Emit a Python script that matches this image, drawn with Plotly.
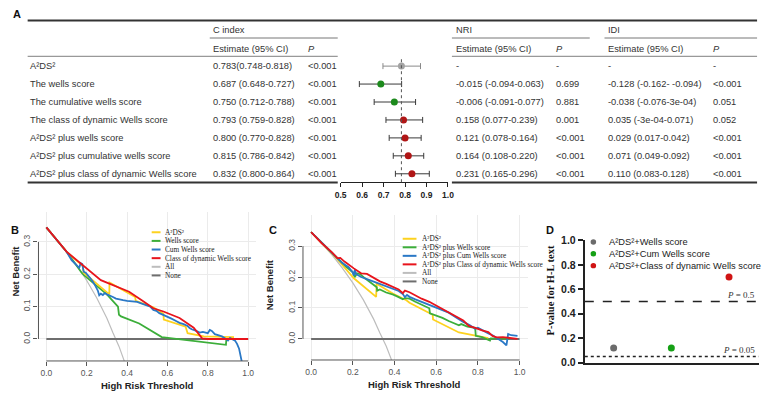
import plotly.graph_objects as go

W, H = 767, 398
def px(x): return x / W
def py(y): return 1 - y / H

SANS = "Liberation Sans, Arial, sans-serif"
SERIF = "Liberation Serif, Times New Roman, serif"

# ---------------- Panel A data ----------------
models = ["A²DS²", "The wells score", "The cumulative wells score",
          "The class of dynamic Wells score", "A²DS² plus wells score",
          "A²DS² plus cumulative wells score", "A²DS² plus class of dynamic Wells score"]
cindex_text = ["0.783(0.748-0.818)", "0.687 (0.648-0.727)", "0.750 (0.712-0.788)",
               "0.793 (0.759-0.828)", "0.800 (0.770-0.828)", "0.815 (0.786-0.842)",
               "0.832 (0.800-0.864)"]
cindex_p = ["<0.001"] * 7
nri_text = ["-", "-0.015 (-0.094-0.063)", "-0.006 (-0.091-0.077)", "0.158 (0.077-0.239)",
            "0.121 (0.078-0.164)", "0.164 (0.108-0.220)", "0.231 (0.165-0.296)"]
nri_p = ["-", "0.699", "0.881", "0.001", "<0.001", "<0.001", "<0.001"]
idi_text = ["-", "-0.128 (-0.162- -0.094)", "-0.038 (-0.076-3e-04)", "0.035 (-3e-04-0.071)",
            "0.029 (0.017-0.042)", "0.071 (0.049-0.092)", "0.110 (0.083-0.128)"]
idi_p = ["-", "<0.001", "0.051", "0.052", "<0.001", "<0.001", "<0.001"]

forest_est = [0.783, 0.687, 0.750, 0.793, 0.800, 0.815, 0.832]
forest_lo = [0.697, 0.587, 0.656, 0.711, 0.726, 0.745, 0.755]
forest_hi = [0.872, 0.784, 0.849, 0.882, 0.875, 0.887, 0.913]
forest_ref = 0.783
forest_ticks = [0.5, 0.6, 0.7, 0.8, 0.9, 1.0]
forest_colors = ["#a3a3a3", "#1d8a1d", "#1d8a1d", "#b01616", "#b01616", "#b01616", "#b01616"]
ci_colors = ["#8a8a8a", "#3a3a3a", "#3a3a3a", "#3a3a3a", "#3a3a3a", "#3a3a3a", "#3a3a3a"]

# ---------------- Panel B data ----------------
b_yellow_t = [0, 0.1, 0.18, 0.185, 0.2, 0.312, 0.313, 0.44, 0.443, 0.53, 0.58, 0.582, 0.69, 0.70, 0.78, 0.86, 0.93]
b_yellow_nb = [0.345, 0.27, 0.226, 0.205, 0.197, 0.138, 0.175, 0.13, 0.118, 0.098, 0.078, 0.06, 0.038, 0.018, 0.008, 0.007, 0.006]
b_green_t = [0, 0.1, 0.175, 0.185, 0.3, 0.355, 0.36, 0.37, 0.46, 0.572, 0.89, 0.892, 0.9]
b_green_nb = [0.345, 0.27, 0.205, 0.198, 0.138, 0.1, 0.075, 0.07, 0.048, 0.006, -0.018, 0.0, 0.0]
b_blue_t = [0, 0.1, 0.125, 0.15, 0.163, 0.17, 0.178, 0.185, 0.195, 0.215, 0.23, 0.245, 0.255, 0.262,
            0.27, 0.28, 0.29, 0.3, 0.315, 0.33, 0.345, 0.36, 0.38, 0.4, 0.42, 0.435, 0.45, 0.47, 0.49,
            0.5, 0.515, 0.53, 0.545, 0.56, 0.58, 0.6, 0.62, 0.645, 0.66, 0.68, 0.7, 0.71, 0.72, 0.74,
            0.76, 0.776, 0.79, 0.8, 0.81, 0.82, 0.835, 0.85, 0.87, 0.885, 0.9, 0.91, 0.92, 0.935,
            0.945, 0.955, 0.97]
b_blue_nb = [0.345, 0.27, 0.244, 0.228, 0.22, 0.235, 0.232, 0.208, 0.205, 0.19, 0.178, 0.162, 0.15, 0.135,
             0.14, 0.136, 0.142, 0.138, 0.135, 0.13, 0.125, 0.122, 0.12, 0.118, 0.117, 0.114, 0.115, 0.11, 0.106,
             0.103, 0.1, 0.09, 0.087, 0.08, 0.075, 0.07, 0.063, 0.055, 0.05, 0.046, 0.04, 0.034, 0.03, 0.026,
             0.02, 0.022, 0.02, 0.018, 0.028, 0.025, 0.015, 0.012, 0.008, 0.002, -0.005, 0.003, 0.0, -0.005,
             -0.015, -0.03, -0.075]
b_red_t = [0, 0.1, 0.27, 0.41, 0.48, 0.53, 0.58, 0.66, 0.73, 0.772, 0.8, 1.0]
b_red_nb = [0.345, 0.27, 0.182, 0.146, 0.117, 0.095, 0.085, 0.065, 0.035, 0.002, 0.0, 0.0]

all_t = [0, 0.05, 0.1, 0.15, 0.2, 0.25, 0.3, 0.33, 0.36, 0.39, 0.41]
all_nb = [0.345, 0.31, 0.272, 0.229, 0.181, 0.127, 0.064, 0.019, -0.023, -0.075, -0.11]
none_t = [0, 1]
none_nb = [0, 0]

# ---------------- Panel C data ----------------
c_yellow_t = [0, 0.1, 0.126, 0.205, 0.312, 0.314, 0.394, 0.457, 0.472, 0.583, 0.585, 0.709, 0.787, 0.85]
c_yellow_nb = [0.345, 0.275, 0.258, 0.196, 0.136, 0.178, 0.146, 0.125, 0.117, 0.078, 0.063, 0.021, 0.01, 0.003]
c_green_t = [0, 0.1, 0.126, 0.17, 0.2, 0.21, 0.22, 0.236, 0.26, 0.3, 0.315, 0.317, 0.33, 0.36, 0.394,
             0.42, 0.44, 0.45, 0.472, 0.5, 0.53, 0.567, 0.57, 0.6, 0.63, 0.66, 0.69, 0.709, 0.72, 0.75,
             0.787, 0.79, 0.82, 0.845, 0.858, 0.862, 0.9, 0.95]
c_green_nb = [0.345, 0.278, 0.26, 0.232, 0.215, 0.2, 0.212, 0.209, 0.195, 0.175, 0.167, 0.156, 0.16, 0.15, 0.143,
              0.135, 0.128, 0.132, 0.13, 0.12, 0.11, 0.099, 0.083, 0.076, 0.068, 0.058, 0.05, 0.044, 0.048, 0.04,
              0.036, 0.01, 0.006, 0.0, -0.005, 0.002, 0.001, 0.0]
c_blue_t = [0, 0.05, 0.1, 0.126, 0.15, 0.18, 0.2, 0.205, 0.21, 0.215, 0.24, 0.268, 0.3, 0.33, 0.36, 0.394,
            0.42, 0.44, 0.45, 0.46, 0.472, 0.5, 0.53, 0.567, 0.6, 0.63, 0.66, 0.69, 0.709, 0.73, 0.76,
            0.787, 0.8, 0.82, 0.85, 0.87, 0.897, 0.92, 0.937, 0.945, 0.96, 0.99]
c_blue_nb = [0.345, 0.312, 0.276, 0.26, 0.245, 0.232, 0.215, 0.205, 0.225, 0.21, 0.2, 0.193, 0.185, 0.177, 0.17,
             0.162, 0.155, 0.145, 0.135, 0.142, 0.136, 0.128, 0.12, 0.11, 0.1, 0.094, 0.085, 0.072, 0.063, 0.055,
             0.045, 0.033, 0.036, 0.028, 0.018, 0.012, 0.0, -0.01, -0.021, 0.016, 0.012, 0.01]
c_red_t = [0, 0.05, 0.1, 0.126, 0.14, 0.16, 0.205, 0.22, 0.24, 0.268, 0.3, 0.33, 0.36, 0.394, 0.42, 0.44,
           0.45, 0.472, 0.5, 0.53, 0.567, 0.6, 0.63, 0.65, 0.68, 0.709, 0.73, 0.756, 0.77, 0.787, 0.82,
           0.85, 0.87, 0.89, 0.92, 0.945, 0.99]
c_red_nb = [0.345, 0.31, 0.28, 0.261, 0.262, 0.25, 0.228, 0.22, 0.212, 0.21, 0.198, 0.186, 0.178, 0.167, 0.16,
            0.148, 0.156, 0.151, 0.14, 0.13, 0.12, 0.108, 0.098, 0.09, 0.08, 0.07, 0.06, 0.042, 0.04, 0.036,
            0.028, 0.022, 0.01, 0.005, 0.006, 0.003, 0.0]

# ---------------- Panel D data ----------------
d_labels = ["A²DS²+Wells score", "A²DS²+Cum Wells score", "A²DS²+Class of dynamic Wells score"]
d_pos = [1, 2, 3]
d_pval = [0.12, 0.12, 0.70]
d_colors = ["#6b6b6b", "#15a015", "#d01414"]

YEL, GRN, BLU, RED = "#fdd21f", "#3cae3a", "#2a78c6", "#e8141c"
ALLC, NONEC = "#bdbdbd", "#6e6e6e"

fig = go.Figure()

# ---- forest traces
for i in range(len(models)):
    fig.add_trace(go.Scatter(
        x=[forest_est[i]], y=[i], mode="markers", xaxis="x", yaxis="y",
        marker=dict(color=forest_colors[i], size=7),
        error_x=dict(type="data", symmetric=False,
                     array=[forest_hi[i] - forest_est[i]],
                     arrayminus=[forest_est[i] - forest_lo[i]],
                     color=ci_colors[i], thickness=1, width=3),
        showlegend=False, hoverinfo="skip"))

# ---- panel B traces
def line(t, nb, color, width, ax):
    fig.add_trace(go.Scatter(x=t, y=nb, mode="lines", xaxis="x" + ax, yaxis="y" + ax,
                             line=dict(color=color, width=width), showlegend=False,
                             hoverinfo="skip"))

line(all_t, all_nb, ALLC, 1.2, "2")
line(none_t, none_nb, NONEC, 2, "2")
line(b_green_t, b_green_nb, GRN, 1.8, "2")
line(b_yellow_t, b_yellow_nb, YEL, 1.8, "2")
line(b_blue_t, b_blue_nb, BLU, 1.8, "2")
line(b_red_t, b_red_nb, RED, 1.8, "2")

line(all_t, all_nb, ALLC, 1.2, "3")
line(none_t, none_nb, NONEC, 2, "3")
line(c_yellow_t, c_yellow_nb, YEL, 1.8, "3")
line(c_green_t, c_green_nb, GRN, 1.8, "3")
line(c_blue_t, c_blue_nb, BLU, 1.8, "3")
line(c_red_t, c_red_nb, RED, 1.8, "3")

# ---- panel D
fig.add_trace(go.Scatter(x=d_pos, y=d_pval, mode="markers", xaxis="x4", yaxis="y4",
                         marker=dict(color=d_colors, size=7), showlegend=False,
                         hoverinfo="skip", cliponaxis=False))

ann = []
shapes = []

def text(x, y, s, size=9.3, family=SANS, color="#333", xanchor="left", yanchor="middle",
         xref="paper", yref="paper", angle=0):
    ann.append(dict(x=x, y=y, text=s, xref=xref, yref=yref, showarrow=False,
                    xanchor=xanchor, yanchor=yanchor, textangle=angle,
                    font=dict(family=family, size=size, color=color)))

def hline(x0, x1, y, color="#333", width=1, dash="solid"):
    shapes.append(dict(type="line", xref="paper", yref="paper", x0=px(x0), x1=px(x1),
                       y0=py(y), y1=py(y), line=dict(color=color, width=width, dash=dash)))

def esc(s):
    return s.replace("<", "&lt;")

# ---- Table
text(px(5), py(8), "<b>A</b>", size=11, color="#111")
hline(22, 763, 15, "#333", 2)
hline(207, 337, 33, "#777", 1)
hline(453, 593, 33, "#777", 1)
hline(608, 763, 33, "#777", 1)
hline(22, 337, 52, "#999", 1.2)
hline(453, 763, 52, "#999", 1.2)
hline(22, 337, 182, "#333", 2)
hline(453, 763, 182, "#333", 2)

col_label, col_ci, col_cp, col_nri, col_nrip, col_idi, col_idip = 22, 208, 305, 455, 557, 610, 716
text(px(col_ci), py(25), "C index")
text(px(col_nri), py(25), "NRI")
text(px(col_idi), py(25), "IDI")
for cx in (col_ci, col_nri, col_idi):
    text(px(cx), py(44), "Estimate (95% CI)")
for cx in (col_cp, col_nrip, col_idip):
    text(px(cx), py(44), "<i>P</i>")

for i in range(len(models)):
    text(px(col_label), i, models[i], yref="y")
    text(px(col_ci), i, esc(cindex_text[i]), yref="y")
    text(px(col_cp), i, esc(cindex_p[i]), yref="y")
    text(px(col_nri), i, esc(nri_text[i]), yref="y")
    text(px(col_nrip), i, esc(nri_p[i]), yref="y")
    text(px(col_idi), i, esc(idi_text[i]), yref="y")
    text(px(col_idip), i, esc(idi_p[i]), yref="y")

shapes.append(dict(type="line", xref="x", yref="y domain", x0=forest_ref, x1=forest_ref,
                   y0=0, y1=1, line=dict(color="#555", width=1, dash="dot")))

# ---- Panel B / C decorations
for ax in ("2", "3"):
    shapes.append(dict(type="line", xref="x" + ax, yref="y" + ax + " domain", x0=0, x1=1,
                       y0=0, y1=0, line=dict(color="#555", width=1)))
    shapes.append(dict(type="line", xref="x" + ax + " domain", yref="y" + ax, x0=0, x1=0,
                       y0=0, y1=0.3, line=dict(color="#555", width=1)))

text(px(3), py(231), "<b>B</b>", size=11, color="#111")
text(px(265), py(231), "<b>C</b>", size=11, color="#111")
text(px(10), py(273), "<b>Net Benefit</b>", size=9.5, color="#222", xanchor="center", angle=-90)
text(px(268), py(287), "<b>Net Benefit</b>", size=9.5, color="#222", xanchor="center", angle=-90)
text(px(143.5), py(391), "<b>High Risk Threshold</b>", size=9.5, color="#222", xanchor="center")
text(px(415), py(390), "<b>High Risk Threshold</b>", size=9.5, color="#222", xanchor="center")

b_leg = [("A²DS²", YEL), ("Wells score", GRN), ("Cum Wells score", BLU),
         ("Class of dynamic Wells score", RED), ("All", ALLC), ("None", NONEC)]
for k, (lab, col) in enumerate(b_leg):
    yy = 233.3 + 8.9 * k
    hline(148, 157, yy, col, 2)
    text(px(160), py(yy), lab, size=7.3, family=SERIF, color="#222")

c_leg = [("A²DS²", YEL), ("A²DS² plus Wells score", GRN), ("A²DS² plus Cum Wells score", BLU),
         ("A²DS² plus Class of dynamic Wells score", RED), ("All", ALLC), ("None", NONEC)]
for k, (lab, col) in enumerate(c_leg):
    yy = 240 + 8.8 * k
    hline(403, 417, yy, col, 2)
    text(px(421), py(yy), lab, size=7.3, family=SERIF, color="#222")

# ---- Panel D decorations
text(px(547), py(231), "<b>D</b>", size=11, color="#111")
text(px(553), py(293), "<b>P-value for H-L text</b>", size=10.5, family=SERIF, color="#111",
     xanchor="center", angle=-90)
shapes.append(dict(type="line", xref="x4 domain", yref="y4", x0=0, x1=1, y0=0.5, y1=0.5,
                   line=dict(color="#222", width=1.5, dash="dash")))
shapes.append(dict(type="line", xref="x4 domain", yref="y4", x0=0, x1=1, y0=0.05, y1=0.05,
                   line=dict(color="#222", width=1.3, dash="dot")))
text(px(763), 0.5, "<i>P</i> = 0.5", size=9, family=SERIF, color="#333", xanchor="right",
     yanchor="bottom", yref="y4")
text(px(763), 0.05, "<i>P</i> = 0.05", size=9, family=SERIF, color="#333", xanchor="right",
     yanchor="bottom", yref="y4")
for k, (lab, col) in enumerate(zip(d_labels, d_colors)):
    yy = 243.3 + 12.2 * k
    r = 2.8
    shapes.append(dict(type="circle", xref="paper", yref="paper",
                       x0=px(596.7 - r), x1=px(596.7 + r), y0=py(yy + r), y1=py(yy - r),
                       fillcolor=col, line=dict(width=0)))
    text(px(611), py(yy), lab, size=9.3, color="#222")

tickfont_b = dict(family=SANS, size=8.5, color="#555")
fig.update_layout(
    width=W, height=H, margin=dict(l=0, r=0, t=0, b=0),
    paper_bgcolor="white", plot_bgcolor="white", showlegend=False,
    xaxis=dict(domain=[px(340), px(449)], range=[0.5, 1.0], anchor="y",
               showline=True, linecolor="#222", linewidth=1.2, ticks="outside", ticklen=4,
               tickcolor="#222", tickvals=forest_ticks,
               ticktext=["%.1f" % v for v in forest_ticks],
               tickfont=dict(family=SANS, size=8.5, color="#222", weight="bold"),
               showgrid=False, zeroline=False),
    yaxis=dict(domain=[py(181.7), py(52)], range=[6.47, -0.54], visible=False, anchor="x"),
    xaxis2=dict(domain=[px(33), px(254)], range=[-0.039, 1.039], anchor="y2",
                showline=False, ticks="outside", ticklen=4, tickcolor="#555",
                tickvals=[0, 0.2, 0.4, 0.6, 0.8, 1.0],
                ticktext=["0.0", "0.2", "0.4", "0.6", "0.8", "1.0"], tickfont=tickfont_b,
                showgrid=True, gridcolor="#ebebeb", gridwidth=1, zeroline=False),
    yaxis2=dict(domain=[py(366), py(212)], range=[-0.068, 0.394], anchor="x2",
                showline=False, ticks="outside", ticklen=4, tickcolor="#555",
                tickvals=[0, 0.1, 0.2, 0.3], ticktext=["0.0", "0.1", "0.2", "0.3"],
                tickangle=-90, tickfont=tickfont_b,
                showgrid=True, gridcolor="#ebebeb", gridwidth=1, zeroline=False),
    xaxis3=dict(domain=[px(301.7), px(530)], range=[-0.039, 1.039], anchor="y3",
                showline=False, ticks="outside", ticklen=4, tickcolor="#555",
                tickvals=[0, 0.2, 0.4, 0.6, 0.8, 1.0],
                ticktext=["0.0", "0.2", "0.4", "0.6", "0.8", "1.0"], tickfont=tickfont_b,
                showgrid=True, gridcolor="#ebebeb", gridwidth=1, zeroline=False),
    yaxis3=dict(domain=[py(365), py(215)], range=[-0.068, 0.402], anchor="x3",
                showline=False, ticks="outside", ticklen=4, tickcolor="#555",
                tickvals=[0, 0.1, 0.2, 0.3], ticktext=["0.0", "0.1", "0.2", "0.3"],
                tickangle=-90, tickfont=tickfont_b,
                showgrid=True, gridcolor="#ebebeb", gridwidth=1, zeroline=False),
    xaxis4=dict(domain=[px(588), px(765)], range=[0.5, 3.52], anchor="y4",
                showline=True, linecolor="#222", linewidth=2, ticks="",
                showticklabels=False, showgrid=False, zeroline=False),
    yaxis4=dict(domain=[py(367.7), py(241.7)], range=[0, 1], anchor="x4",
                showline=True, linecolor="#222", linewidth=2, ticks="outside", ticklen=5,
                tickwidth=2, tickcolor="#222", tickvals=[0, 0.2, 0.4, 0.6, 0.8, 1.0],
                ticktext=["0.0", "0.2", "0.4", "0.6", "0.8", "1.0"],
                tickfont=dict(family=SANS, size=10.5, color="#222", weight="bold"),
                showgrid=False, zeroline=False),
    annotations=ann, shapes=shapes,
)

fig.write_html("out.html")
